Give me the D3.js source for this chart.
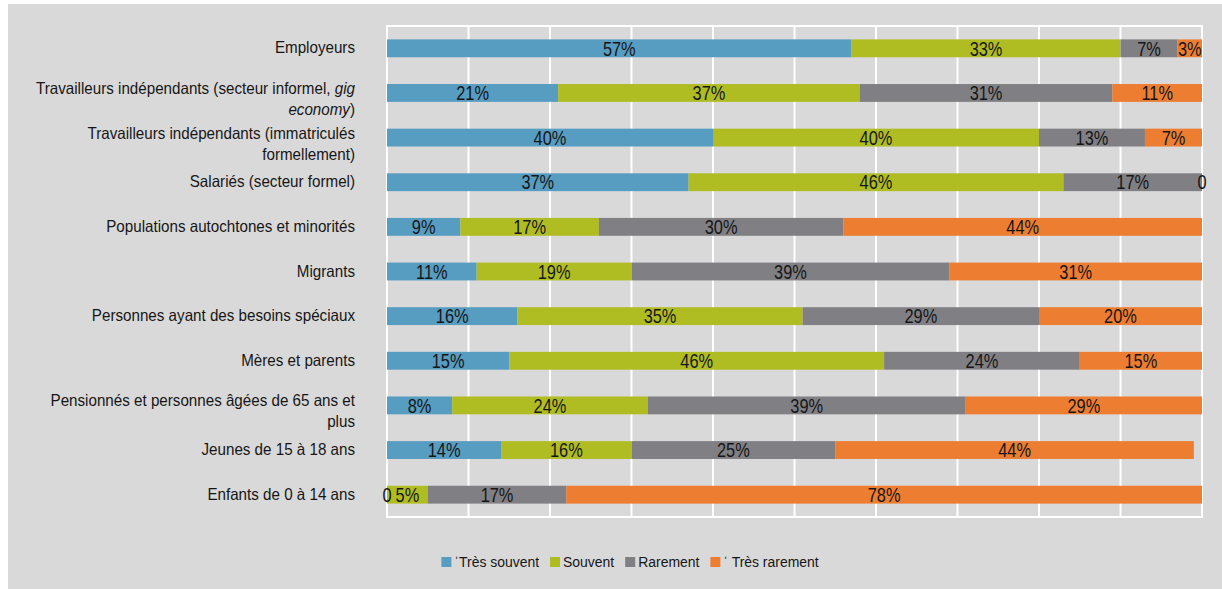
<!DOCTYPE html>
<html>
<head>
<meta charset="utf-8">
<script src="https://cdn.jsdelivr.net/npm/d3@7/dist/d3.min.js"></script>
<style>
  html, body { margin: 0; padding: 0; background: #ffffff; }
  svg { display: block; }
</style>
</head>
<body>
<svg id="chart" width="1222" height="589"></svg>
<script>
// Categories (top to bottom). "\n" = line break, *...* = italic run.
const categories = [
  "Employeurs",
  "Travailleurs indépendants (secteur informel, *gig*\n*economy*)",
  "Travailleurs indépendants (immatriculés\nformellement)",
  "Salariés (secteur formel)",
  "Populations autochtones et minorités",
  "Migrants",
  "Personnes ayant des besoins spéciaux",
  "Mères et parents",
  "Pensionnés et personnes âgées de 65 ans et\nplus",
  "Jeunes de 15 à 18 ans",
  "Enfants de 0 à 14 ans"
];

// Share of answers (%) per frequency
const tresSouvent  = [57, 21, 40, 37,  9, 11, 16, 15,  8, 14,  0];
const souvent      = [33, 37, 40, 46, 17, 19, 35, 46, 24, 16,  5];
const rarement     = [ 7, 31, 13, 17, 30, 39, 29, 24, 39, 25, 17];
const tresRarement = [ 3, 11,  7,  0, 44, 31, 20, 15, 29, 44, 78];

const seriesNames = ["Très souvent", "Souvent", "Rarement", "Très rarement"];
const legendLabels = ["\u02C8Très souvent", "Souvent", "Rarement", "\u02C8 Très rarement"];
const xTicks = [0, 10, 20, 30, 40, 50, 60, 70, 80, 90, 100];

const colors = ["#579cc1", "#b0bd22", "#807f83", "#ed7d31"];

const svg = d3.select("#chart");
const W = 1222, H = 589;

// Panel background
svg.append("rect")
  .attr("x", 8).attr("y", 4)
  .attr("width", W - 8).attr("height", H - 4)
  .attr("fill", "#d9d9d9");

const plot = { left: 387, right: 1202, top: 26, bottom: 517 };

const x = d3.scaleLinear().domain([0, 100]).range([plot.left, plot.right]);
const y = d3.scaleBand()
  .domain(d3.range(categories.length))
  .range([plot.top, plot.bottom])
  .paddingInner(0.6)
  .paddingOuter(0.3);

// Vertical gridlines
svg.append("g")
  .selectAll("line")
  .data(xTicks)
  .join("line")
  .attr("x1", d => x(d)).attr("x2", d => x(d))
  .attr("y1", plot.top).attr("y2", plot.bottom)
  .attr("stroke", "#ffffff")
  .attr("stroke-width", 2);

// Plot frame (top / bottom)
svg.append("g")
  .selectAll("line")
  .data([plot.top, plot.bottom])
  .join("line")
  .attr("x1", plot.left - 1).attr("x2", plot.right + 1)
  .attr("y1", d => d).attr("y2", d => d)
  .attr("stroke", "#ffffff")
  .attr("stroke-width", 2);

// Stack the series
const rows = categories.map((c, i) => ({
  i,
  "Très souvent": tresSouvent[i],
  "Souvent": souvent[i],
  "Rarement": rarement[i],
  "Très rarement": tresRarement[i]
}));
const stacked = d3.stack().keys(seriesNames)(rows);

const layers = svg.append("g")
  .selectAll("g")
  .data(stacked)
  .join("g")
  .attr("fill", (d, k) => colors[k]);

layers.selectAll("rect")
  .data(d => d)
  .join("rect")
  .attr("x", d => x(d[0]))
  .attr("y", d => y(d.data.i))
  .attr("width", d => x(d[1]) - x(d[0]))
  .attr("height", y.bandwidth());

// Value labels centred on their segments (narrow face emulated by horizontal squeeze)
const vals = svg.append("g")
  .attr("font-family", "'Liberation Sans', Arial, sans-serif")
  .attr("font-size", 20)
  .attr("fill", "#161616")
  .attr("text-anchor", "middle");

stacked.forEach(layer => {
  vals.selectAll(null)
    .data(layer)
    .join("text")
    .attr("transform", d =>
      `translate(${(x(d[0]) + x(d[1])) / 2},${y(d.data.i) + y.bandwidth() / 2}) scale(0.82,1)`)
    .attr("dy", "0.36em")
    .text(d => {
      const v = d[1] - d[0];
      return v === 0 ? "0" : v + "%";
    });
});

// Category labels (right-aligned, wrapped lines, italic runs)
const catG = svg.append("g")
  .attr("font-family", "'Liberation Sans', Arial, sans-serif")
  .attr("font-size", 16.5)
  .attr("fill", "#161616")
  .attr("text-anchor", "end");

const lineH = 21;
categories.forEach((label, i) => {
  const lines = label.split("\n");
  const cy = y(i) + y.bandwidth() / 2;
  const firstBase = lines.length === 1 ? cy + 5 : cy + 1;
  const t = catG.append("text")
    .attr("transform", `translate(355,${firstBase}) scale(0.92,1)`);
  lines.forEach((line, li) => {
    const parts = line.split("*");
    let first = true;
    parts.forEach((part, pi) => {
      if (!part) return;
      const span = t.append("tspan").text(part);
      if (pi % 2 === 1) span.attr("font-style", "italic");
      if (first) {
        span.attr("x", 0).attr("y", li * lineH);
        first = false;
      }
    });
  });
});

// Legend
const legend = svg.append("g")
  .attr("font-family", "'Liberation Sans', Arial, sans-serif")
  .attr("font-size", 15)
  .attr("fill", "#161616");

let lx = 0;
seriesNames.forEach((name, k) => {
  const g = legend.append("g").attr("transform", `translate(${lx},0)`);
  g.append("rect")
    .attr("x", 0).attr("y", -10)
    .attr("width", 10).attr("height", 10)
    .attr("fill", colors[k]);
  const tx = g.append("text")
    .attr("transform", "translate(13,0) scale(0.93,1)")
    .text(legendLabels[k]);
  const w = tx.node().getComputedTextLength() * 0.93;
  lx += 13 + w + 11;
});
const legendW = lx - 11;
legend.attr("transform", `translate(${630 - legendW / 2},567)`);
</script>
</body>
</html>
